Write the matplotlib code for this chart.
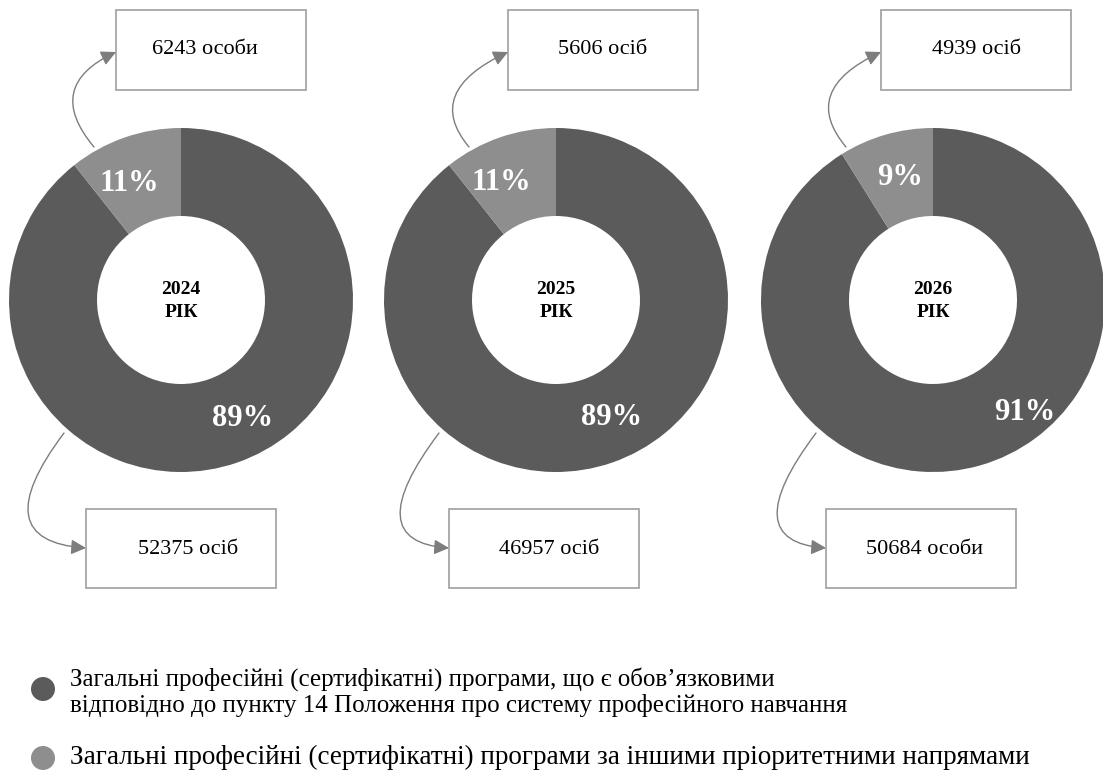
import matplotlib
matplotlib.use("Agg")
import numpy as np
import matplotlib.pyplot as plt
from matplotlib.patches import Rectangle, Circle, FancyArrowPatch

plt.rcParams['font.family'] = ['Liberation Serif', 'DejaVu Serif']

# persons per year: mandatory programmes vs other priority directions
years = ['2024', '2025', '2026']
mandatory = [52375, 46957, 50684]
other = [6243, 5606, 4939]
mandatory_labels = ['52375 осіб', '46957 осіб', '50684 особи']
other_labels = ['6243 особи', '5606 осіб', '4939 осіб']
legend_labels = [
    'Загальні професійні (сертифікатні) програми, що є обов’язковими\n'
    'відповідно до пункту 14 Положення про систему професійного навчання',
    'Загальні професійні (сертифікатні) програми за іншими пріоритетними напрямами',
]

DARK = '#5b5b5b'
LIGHT = '#8e8e8e'
W, H = 1103, 772

fig = plt.figure(figsize=(W / 100, H / 100), dpi=100)
ax = fig.add_axes([0, 0, 1, 1])

# layout in pixels (y measured from the top)
cx = [181, 556, 933]
cy = 300
r_out, r_in = 172, 84
top_box_x = [116, 508, 881]
top_text_x = [205, 603, 977]
bot_box_x = [86, 449, 826]
bot_text_x = [188, 549, 924]
small_label_pos = [(114, 128), (115, 130), (105, 127)]   # (angle, radius)
big_label_pos = [(-62, 131), (-64, 127), (-50, 143)]


def py(y):
    return H - y


def polar(i, ang, r):
    a = np.deg2rad(ang)
    return cx[i] + r * np.cos(a), py(cy) + r * np.sin(a)


for i in range(3):
    vals = [mandatory[i], other[i]]
    ax.pie(vals, colors=[DARK, LIGHT], startangle=90, counterclock=False,
           radius=r_out, center=(cx[i], py(cy)),
           wedgeprops=dict(width=r_out - r_in, linewidth=0))
    total = sum(vals)
    pct_small = round(100 * other[i] / total)
    pct_big = round(100 * mandatory[i] / total)

    # percentage labels in the ring
    x, y = polar(i, *small_label_pos[i])
    ax.text(x, y, f'{pct_small}%', color='white', fontsize=22,
            fontweight='bold', ha='center', va='center')
    x, y = polar(i, *big_label_pos[i])
    ax.text(x, y - 3, f'{pct_big}%', color='white', fontsize=22,
            fontweight='bold', ha='center', va='center')

    ax.text(cx[i], py(cy + 1), f'{years[i]}\nРІК', fontsize=14,
            fontweight='bold', ha='center', va='center', linespacing=1.4)

    # callout boxes
    ax.add_patch(Rectangle((top_box_x[i], py(90)), 190, 80, facecolor='white',
                           edgecolor='#a6a6a6', linewidth=1.3))
    ax.text(top_text_x[i], py(49), other_labels[i], fontsize=16,
            ha='center', va='center')
    ax.add_patch(Rectangle((bot_box_x[i], py(588)), 190, 79, facecolor='white',
                           edgecolor='#a6a6a6', linewidth=1.3))
    ax.text(bot_text_x[i], py(550), mandatory_labels[i], fontsize=16,
            ha='center', va='center')

    # curved arrows from the ring to the boxes
    ax.add_patch(FancyArrowPatch(
        (cx[i] - 87, py(147)), (top_box_x[i], py(52)),
        connectionstyle='angle3,angleA=130,angleB=25',
        arrowstyle='-|>,head_length=9,head_width=4.5',
        color='#7d7d7d', linewidth=1.0, shrinkA=0, shrinkB=0))
    ax.add_patch(FancyArrowPatch(
        (cx[i] - 117, py(433)), (bot_box_x[i], py(548)),
        connectionstyle='angle3,angleA=53,angleB=-4',
        arrowstyle='-|>,head_length=9,head_width=4.5',
        color='#7d7d7d', linewidth=1.0, shrinkA=0, shrinkB=0))

# legend
ax.add_patch(Circle((43, py(689)), 12, color=DARK, linewidth=0))
ax.text(70, py(692), legend_labels[0], fontsize=18, ha='left', va='center',
        linespacing=1.2)
ax.add_patch(Circle((43, py(758)), 12, color=LIGHT, linewidth=0))
ax.text(70, py(757), legend_labels[1], fontsize=19.5, ha='left', va='center')

ax.set_xlim(0, W)
ax.set_ylim(0, H)
ax.set_aspect('equal')
ax.axis('off')

fig.savefig('out.png', dpi=100)
